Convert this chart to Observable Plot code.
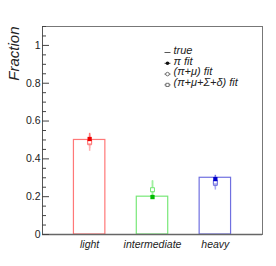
<!DOCTYPE html>
<html><head><meta charset="utf-8">
<script src="https://cdn.jsdelivr.net/npm/d3@7"></script>
<script src="https://cdn.jsdelivr.net/npm/@observablehq/plot@0.6"></script>
<style>body{margin:0;background:#fff}</style>
</head><body><div id="chart"></div>
<script>
const categories = ["light", "intermediate", "heavy"];
const binCenters = [0.75, 1.75, 2.75];
const trueValues = [0.5, 0.2, 0.3];
const piFit = [0.505, 0.198, 0.293];
const piFitErr = [0.03, 0.012, 0.02];
const piMuFit = [0.489, 0.237, 0.277];
const piMuFitErr = [0.035, 0.048, 0.03];
const allFit = [0.485, 0.236, 0.27];
const allFitErr = [0.045, 0.045, 0.035];
const yTicks = [0, 0.2, 0.4, 0.6, 0.8, 1];
const yMinor = d3.range(0, 1.1001, 0.05);
const legendLabels = ["true", "π fit", "(π+μ) fit", "(π+μ+Σ+δ) fit"];
const legendSymbols = ["line", "filled", "circle", "square"];

const lineColors = ["#ff7878", "#78e878", "#7070e0"];
const fillColors = ["#ee0000", "#00bb00", "#0000cc"];
const lightColors = ["#ffb0b0", "#a0f0a0", "#a8a8f0"];

const W = 276, H = 266;
const m = {left: 42, right: 14, top: 26, bottom: 32};
const fw = W - m.left - m.right;
const halfW = 0.25;

const bins = categories.map((c, i) => ({
  c, i, x: binCenters[i], t: trueValues[i],
  pf: piFit[i], pfe: piFitErr[i],
  pm: piMuFit[i], pme: piMuFitErr[i],
  af: allFit[i], afe: allFitErr[i]
}));

const font = "'Liberation Sans', Arial, sans-serif";

const hline = {draw(ctx, size) { ctx.moveTo(-3, 0); ctx.lineTo(3, 0); }};

const legendMarks = [];
legendLabels.forEach((lab, i) => {
  const dy = 19.5 + i * 10.8;
  legendMarks.push(Plot.text([lab], {frameAnchor: "top-left", dx: 131, dy, text: d => d,
    fontSize: 11, fontStyle: "italic", fill: "#222", textAnchor: "start"}));
  const sym = legendSymbols[i];
  legendMarks.push(Plot.dot([sym], {frameAnchor: "top-left", dx: 125, dy: dy + 6.5,
    symbol: hline, r: 3, fill: "none", stroke: "#444", strokeWidth: 0.9}));
  if (sym !== "line") {
    legendMarks.push(Plot.dot([sym], {frameAnchor: "top-left", dx: 125, dy: dy + 6.5,
      symbol: sym === "square" ? "square" : "circle", r: 1.8,
      fill: sym === "filled" ? "#111" : "white", stroke: sym === "filled" ? "none" : "#555", strokeWidth: 0.8}));
  }
});

const plot = Plot.plot({
  width: W, height: H,
  marginLeft: m.left, marginRight: m.right, marginTop: m.top, marginBottom: m.bottom,
  style: {fontFamily: font, fontSize: "10px", color: "#222", background: "#fff"},
  x: {domain: [0, 3.5], axis: null},
  y: {domain: [0, 1.1], axis: null},
  marks: [
    Plot.rectY(bins, {x1: d => d.x - halfW, x2: d => d.x + halfW, y1: 0, y2: "t",
      fill: "none", stroke: d => lineColors[d.i], strokeWidth: 1.2}),
    Plot.ruleX(bins, {x: "x", y1: d => d.af - d.afe, y2: d => d.af + d.afe, stroke: d => lightColors[d.i], strokeWidth: 1.5}),
    Plot.ruleX(bins, {x: "x", y1: d => d.pm - d.pme, y2: d => d.pm + d.pme, stroke: d => lightColors[d.i], strokeWidth: 1.5}),
    Plot.ruleX(bins, {x: "x", y1: d => d.pf - d.pfe, y2: d => d.pf + d.pfe, stroke: d => lineColors[d.i], strokeWidth: 1.5}),
    Plot.dot(bins, {x: "x", y: "af", symbol: "square", r: 2.2, fill: "white", stroke: d => lineColors[d.i], strokeWidth: 1}),
    Plot.dot(bins, {x: "x", y: "pm", symbol: "square", r: 2.2, fill: "white", stroke: d => lineColors[d.i], strokeWidth: 1}),
    Plot.dot(bins, {x: "x", y: "pf", symbol: "square", r: 2.4, fill: d => fillColors[d.i], stroke: "none"}),
    Plot.frame({stroke: "#777", strokeWidth: 1}),
    Plot.ruleY([0], {stroke: "#666", strokeWidth: 1.5}),
    Plot.ruleX([0], {stroke: "#555", strokeWidth: 1}),
    Plot.tickY(yTicks, {y: d => d, stroke: "#444", insetRight: fw - 7}),
    Plot.tickY(yMinor.filter(v => !yTicks.some(t => Math.abs(t - v) < 1e-6)), {y: d => d, stroke: "#444", insetRight: fw - 4}),
    Plot.text(yTicks, {y: d => d, text: d => String(d), frameAnchor: "left", textAnchor: "end", dx: -2, fontSize: 10.5, fill: "#222"}),
    Plot.text(bins, {x: "x", text: "c", frameAnchor: "bottom", dy: 13, fontStyle: "italic", fontSize: 10.5, fill: "#222"}),
    Plot.text(["Fraction"], {frameAnchor: "top-left", dx: -34, dy: 0, rotate: -90, textAnchor: "end", fontStyle: "italic", fontSize: 15, fill: "#222"}),
    ...legendMarks
  ]
});
document.getElementById("chart").appendChild(plot);
</script>
</body></html>
